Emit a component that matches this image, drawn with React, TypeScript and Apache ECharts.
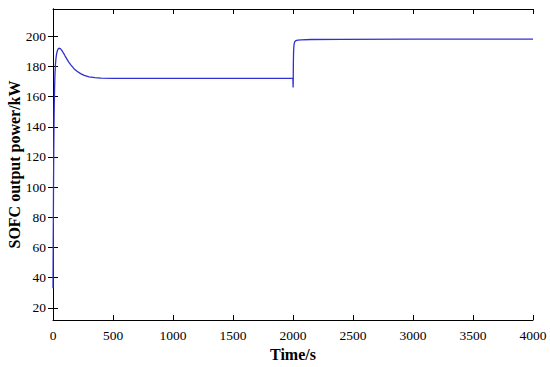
import React, { useEffect, useRef } from "react";
import * as echarts from "echarts";

const timeS = [
  0, 2, 4, 6, 8, 10, 13, 16, 20, 25, 30, 35, 40, 45, 50, 55, 60, 65, 70, 80, 90, 100, 115, 130, 150, 175, 200, 230, 260, 300, 350, 400, 500, 700, 1000, 1500, 1999,
  2000, 2001, 2002, 2003, 2005, 2008, 2012, 2018, 2025, 2040, 2070, 2150, 2400, 3000, 4000,
];
const powerKW = [
  33, 65, 95, 120, 138, 152, 165, 174, 181, 185.5, 188.3, 190, 191.1, 191.7, 192, 192, 191.8, 191.4, 190.9, 189.7, 188.4, 187, 185, 183, 180.8, 178.5, 176.8, 175.2, 174, 173.1, 172.5, 172.2, 172, 172, 172, 172, 172,
  172, 166, 172, 182, 190, 194, 195.8, 196.7, 197.1, 197.4, 197.6, 197.8, 197.9, 198, 198,
];
const yTicks = [20, 40, 60, 80, 100, 120, 140, 160, 180, 200];

export default function App() {
  const ref = useRef<HTMLDivElement>(null);
  useEffect(() => {
    if (!ref.current) return;
    const chart = echarts.init(ref.current, null, { renderer: "svg" });
    const font = "'Liberation Serif', 'Times New Roman', serif";
    const axisLine = { show: true, lineStyle: { color: "#000", width: 1 } };
    const fmt = (v: number) => String(v);
    chart.setOption({
      animation: false,
      backgroundColor: "#fff",
      textStyle: { fontFamily: font },
      grid: { left: 53, right: 17, top: 9, bottom: 47, containLabel: false, outerBoundsMode: "none" },
      xAxis: [
        {
          type: "value",
          min: 0,
          max: 4000,
          interval: 500,
          name: "Time/s",
          nameLocation: "middle",
          nameGap: 26,
          nameMoveOverlap: false,
          nameTextStyle: { fontFamily: font, fontSize: 16, fontWeight: "bold", color: "#000" },
          axisLine,
          axisTick: { inside: true, length: 5, lineStyle: { color: "#000" } },
          axisLabel: { fontFamily: font, fontSize: 13.5, color: "#000", margin: 8, formatter: fmt },
          splitLine: { show: false },
        },
        {
          type: "value",
          position: "top",
          min: 0,
          max: 4000,
          interval: 500,
          axisLine,
          axisTick: { inside: true, length: 5, lineStyle: { color: "#000" } },
          axisLabel: { show: false },
          splitLine: { show: false },
        },
      ],
      yAxis: [
        {
          type: "value",
          min: 12,
          max: 218,
          name: "SOFC output power/kW",
          nameLocation: "middle",
          nameGap: 31,
          nameMoveOverlap: false,
          nameTextStyle: { fontFamily: font, fontSize: 16, fontWeight: "bold", color: "#000" },
          axisLine,
          axisTick: { inside: true, length: 5, lineStyle: { color: "#000" }, customValues: yTicks },
          axisLabel: { fontFamily: font, fontSize: 13.5, color: "#000", margin: 7, customValues: yTicks, formatter: fmt },
          splitLine: { show: false },
        },
        {
          type: "value",
          position: "right",
          min: 12,
          max: 218,
          axisLine,
          axisTick: { inside: true, length: 5, lineStyle: { color: "#000" }, customValues: yTicks },
          axisLabel: { show: false, customValues: yTicks },
          splitLine: { show: false },
        },
      ],
      series: [
        {
          type: "line",
          xAxisIndex: 0,
          yAxisIndex: 0,
          data: timeS.map((t, i) => [t, powerKW[i]]),
          showSymbol: false,
          symbol: "none",
          lineStyle: { color: "#3030d0", width: 1.3 },
        },
      ],
    });
    return () => chart.dispose();
  }, []);
  return (
    <div
      ref={ref}
      style={{ position: "fixed", left: 0, top: 0, width: 550, height: 367, background: "#fff" }}
    />
  );
}
